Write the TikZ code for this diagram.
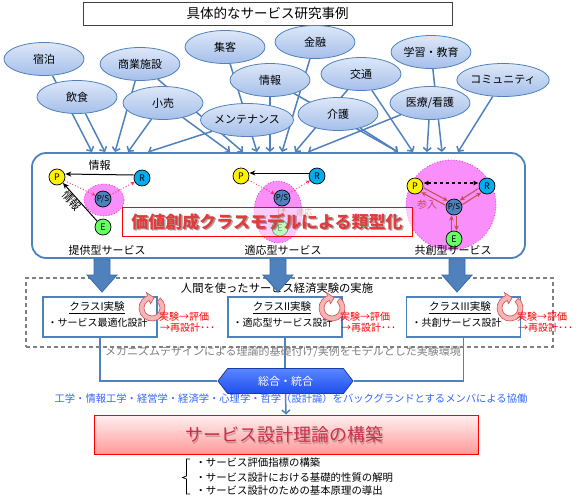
\documentclass[tikz,border=0pt]{standalone}
\usepackage{fontspec}
\setmainfont{Noto Sans CJK JP}
\usetikzlibrary{arrows.meta,shapes.geometric,shapes.symbols}
\definecolor{arrblue}{HTML}{4F81BD}
\definecolor{ellbdr}{HTML}{4F81BD}
\definecolor{elltop}{HTML}{DDE7F8}
\definecolor{ellbot}{HTML}{A5BFEA}
\definecolor{pinkf}{HTML}{FA8EFA}
\definecolor{pinkd}{HTML}{D838D8}
\definecolor{pinkarr}{HTML}{FF2E6E}
\definecolor{brn}{HTML}{C0504D}
\definecolor{psblue}{HTML}{4F81BD}
\definecolor{egreen}{HTML}{66FF66}
\definecolor{ringd}{HTML}{D36060}
\definecolor{ringl}{HTML}{F7B4B4}
\definecolor{hextop}{HTML}{5A86FF}
\definecolor{hexbot}{HTML}{1E4FEF}
\definecolor{hexbdr}{HTML}{1A3DA8}
\definecolor{txtblue}{HTML}{3366FF}
\definecolor{goalred}{HTML}{C8304A}
\definecolor{ovlred}{HTML}{E23B3B}
\definecolor{blkarr}{HTML}{3C6BA6}
\newcommand\fsz[1]{\fontsize{#1}{#1}\selectfont}
\pgfdeclarelayer{bg}
\pgfsetlayers{bg,main}
\begin{document}
\begin{tikzpicture}[x=1pt,y=-1pt,
  ell/.style={ellipse, draw=ellbdr, line width=0.8pt, top color=elltop, bottom color=ellbot, minimum width=80pt, minimum height=33pt, inner sep=0pt, font=\fsz{11}},
  conn/.style={draw=arrblue, line width=1.5pt, -{Straight Barb[length=3.5pt,width=8pt]}},
  circ/.style={circle, draw=black, line width=0.7pt, minimum size=16pt, inner sep=0pt, font=\fsz{9}},
  pc/.style={circ, fill=yellow},
  rc/.style={circ, fill=cyan},
  sc/.style={circ, fill=psblue, font=\fsz{8}},
  ec/.style={circ, fill=egreen},
  pinkblob/.style={fill=pinkf, draw=pinkd, dotted, line width=0.8pt, inner sep=0pt},
  blk/.style={draw=black, line width=1pt, -{Stealth[length=6pt,width=5pt]}},
  pdot/.style={draw=pinkarr, dotted, line width=0.9pt, -{Stealth[length=4pt,width=4pt]}},
  brnarr/.style={draw=brn, line width=1pt, -{Stealth[length=5pt,width=4.5pt]}, shorten <=8.5pt, shorten >=8.5pt},
  lbl/.style={font=\fsz{11}},
  classbox/.style={draw=arrblue, line width=1.5pt, fill=white, minimum width=114pt, minimum height=40pt},
  redtxt/.style={anchor=west, text=red, font=\fsz{10}, inner sep=1pt},
  ring/.style={fill=ringl, draw=ringd, line width=0.7pt},
  blockarr/.style={fill=arrblue, draw=blkarr, line width=0.8pt},
  bullet/.style={anchor=west, font=\fsz{10.4}}
]
\useasboundingbox (0,0) rectangle (583,501);

% title
\node[draw=black!75, line width=0.8pt, minimum width=369pt, minimum height=23pt, font=\fsz{13.5}] (title) at (267.5,13.5) {具体的なサービス研究事例};

% ellipses
\node[ell] (e1) at (44,59) {宿泊};
\node[ell] (e2) at (77,97) {飲食};
\node[ell] (e3) at (140,64) {商業施設};
\node[ell] (e4) at (163,103) {小売};
\node[ell] (e5) at (225,47) {集客};
\node[ell] (e6) at (270,80) {情報};
\node[ell] (e7) at (247,120) {メンテナンス};
\node[ell] (e8) at (315,42) {金融};
\node[ell] (e9) at (361,74) {交通};
\node[ell] (e10) at (338,114) {介護};
\node[ell] (e11) at (431,52) {学習・教育};
\node[ell] (e12) at (430,103) {医療/看護};
\node[ell] (e13) at (503,80) {コミュニティ};

% target points on the box top
\coordinate (a1) at (92,152);
\coordinate (a2) at (105,152);
\coordinate (a3) at (115,152);
\coordinate (a4) at (128,152);
\coordinate (a5) at (148,152);
\coordinate (a6) at (230,152);
\coordinate (a7) at (243,152);
\coordinate (a8) at (257,152);
\coordinate (a9) at (270,152);
\coordinate (a10) at (282,152);
\coordinate (a11) at (295,152);
\coordinate (a12) at (308,152);
\coordinate (a13) at (398,152);
\coordinate (a14) at (413,152);
\coordinate (a15) at (427,152);
\coordinate (a16) at (442,152);
\coordinate (a17) at (458,152);

\begin{pgfonlayer}{bg}
\draw[conn] (e1) -- (a1);
\draw[conn] (e2) -- (a2);
\draw[conn] (e3) -- (a3);
\draw[conn] (e4) -- (a4);
\draw[conn] (e7) -- (a5);
\draw[conn] (e4) -- (a6);
\draw[conn] (e3) -- (a7);
\draw[conn] (e5) -- (a8);
\draw[conn] (e6) -- (a9);
\draw[conn] (e8) -- (a10);
\draw[conn] (e9) -- (a11);
\draw[conn] (e12) -- (a12);
\draw[conn] (e6) -- (a13);
\draw[conn] (e10) -- (a13);
\draw[conn] (e9) -- (a14);
\draw[conn] (e12) -- (a15);
\draw[conn] (e11) -- (a16);
\draw[conn] (e13) -- (a17);
\end{pgfonlayer}

% big rounded box
\node[draw=arrblue, line width=1.8pt, rounded corners=14pt, minimum width=493pt, minimum height=105pt, fill=white] (bigbox) at (278.5,205.5) {};

% provider-type service
\node[ellipse, pinkblob, minimum width=40pt, minimum height=32pt] (pk1) at (104,200) {};
\node[pc] (p1P) at (57,177) {P};
\node[rc] (p1R) at (142,178) {R};
\node[sc] (p1S) at (103,199) {P/S};
\node[ec] (p1E) at (103,227) {E};
\draw[blk] ([yshift=3pt]p1R.west) -- node[above=0pt, font=\fsz{11}] (p1info) {情報} ([yshift=3pt]p1P.east);
\draw[blk] (p1E.north west) -- (p1P.south east);
\node[font=\fsz{11}, rotate=-48] (p1info2) at (72,201) {情報};
\draw[pdot] (p1P) -- (p1S);
\draw[pdot] (p1S) -- (p1R);
\node[lbl] (lab1) at (107,250) {提供型サービス};

% adaptive service
\node[ellipse, pinkblob, minimum width=48pt, minimum height=62pt] (pk2) at (278,212) {};
\node[pc] (p2P) at (241,176) {P};
\node[rc] (p2R) at (317,176) {R};
\node[sc] (p2S) at (282,198) {P/S};
\node[ec] (p2E) at (280,228) {E};
\draw[blk] ([yshift=3pt]p2R.west) -- ([yshift=3pt]p2P.east);
\draw[pdot] (p2P) -- (p2S);
\draw[pdot] (p2S) -- (p2R);
\draw[brnarr] ([xshift=-2.5pt]p2S.center) -- ([xshift=-2.5pt]p2E.center);
\draw[brnarr] ([xshift=2.5pt]p2E.center) -- ([xshift=2.5pt]p2S.center);
\node[text=brn, font=\fsz{8}] (p2lab) at (304,212) {適応};
\node[lbl] (lab2) at (283,250) {適応型サービス};

% co-creation service
\node[circle, pinkblob, minimum size=90pt] (pk3) at (451,205) {};
\node[pc] (p3P) at (415,186) {P};
\node[rc] (p3R) at (487,186) {R};
\node[sc] (p3S) at (454,207) {P/S};
\node[ec] (p3E) at (454,239) {E};
\draw[dashed, line width=1.2pt, {Latex[length=5pt,width=5pt]}-{Latex[length=5pt,width=5pt]}] ([yshift=3pt]p3P.east) -- ([yshift=3pt]p3R.west);
\draw[brnarr] ([shift={(1.2,-2.2)}]p3P.center) -- ([shift={(1.2,-2.2)}]p3S.center);
\draw[brnarr] ([shift={(-1.2,2.2)}]p3S.center) -- ([shift={(-1.2,2.2)}]p3P.center);
\draw[brnarr] ([shift={(-1.3,-2.1)}]p3R.center) -- ([shift={(-1.3,-2.1)}]p3S.center);
\draw[brnarr] ([shift={(1.3,2.1)}]p3S.center) -- ([shift={(1.3,2.1)}]p3R.center);
\draw[brnarr] ([xshift=-2.5pt]p3E.center) -- ([xshift=-2.5pt]p3S.center);
\draw[brnarr] ([xshift=2.5pt]p3S.center) -- ([xshift=2.5pt]p3E.center);
\node[text=brn, font=\fsz{10}] (p3lab) at (427,205) {参入};
\node[lbl] (lab3) at (453,250) {共創型サービス};

% overlay
\node[draw=red, line width=0.8pt, fill=white, fill opacity=0.55, minimum width=290pt, minimum height=29pt] (ovl) at (267,221.5) {};
\node[text=black, opacity=0.35, font=\fsz{17}\bfseries] (ovlsh) at (268.5,223) {価値創成クラスモデルによる類型化};
\node[text=ovlred, font=\fsz{17}\bfseries] (ovltxt) at (267,221.5) {価値創成クラスモデルによる類型化};

% dashed experiment box
\node[draw=gray, dash pattern=on 4pt off 3pt, line width=1.5pt, minimum width=527pt, minimum height=69pt] (dbox) at (289.5,312.5) {};
\node[font=\fsz{11.3}] (dlab) at (277,288) {人間を使ったサービス経済実験の実施};

% block arrows
\foreach \cx in {102, 278, 457}{
  \filldraw[blockarr] (\cx-8,259) -- (\cx+8,259) -- (\cx+8,275) -- (\cx+15,275) -- (\cx,292) -- (\cx-15,275) -- (\cx-8,275) -- cycle;
}

% class boxes
\node[classbox] (c1) at (100,317) {};
\node[classbox] (c2) at (285,317) {};
\node[classbox] (c3) at (463.5,317) {};
\node[font=\fsz{10.5}] (c1t) at (97,308) {\underline{クラスI実験}};
\node[font=\fsz{10.5}] (c2t) at (282,308) {\underline{クラスII実験}};
\node[font=\fsz{10.5}] (c3t) at (460,308) {\underline{クラスIII実験}};
\node[anchor=west, font=\fsz{10}] (c1b) at (44,323) {・サービス最適化設計};
\node[anchor=west, font=\fsz{10}] (c2b) at (229,323) {・適応型サービス設計};
\node[anchor=west, font=\fsz{10}] (c3b) at (408,323) {・共創サービス設計};

% cycle icons
\foreach \cx in {152,332,510}{
\begin{scope}[shift={(\cx,308)}]
\filldraw[ring] (-50:13) arc[start angle=-50, end angle=250, radius=13] -- (250:16.5) -- (282:10.5) -- (250:4.5) -- (250:8) arc[start angle=250, end angle=-50, radius=8] -- cycle;
\end{scope}
}
\node[redtxt] (r1a) at (158,317) {実験→評価};
\node[redtxt] (r1b) at (159,328) {→再設計･･･};
\node[redtxt] (r2a) at (339,317) {実験→評価};
\node[redtxt] (r2b) at (340,328) {→再設計･･･};
\node[redtxt] (r3a) at (516,317) {実験→評価};
\node[redtxt] (r3b) at (517,328) {→再設計･･･};

% mechanism text
\node[text=gray, font=\fsz{11}] (mech) at (283,352) {メカニズムデザインによる理論的基礎付け/実例をモデルとした実験環境};

% integration hexagon
\node[signal, signal to=east and west, signal pointer angle=105, draw=hexbdr, line width=0.8pt, top color=hextop, bottom color=hexbot, text=white, font=\fsz{11}, minimum width=135pt, minimum height=25pt, inner sep=0pt] (hex) at (285.5,381) {総合・統合};

\begin{pgfonlayer}{bg}
\draw[draw=arrblue, line width=1.5pt] (c1.south) |- (hex.west);
\draw[draw=arrblue, line width=1.5pt] (c3.south) |- (hex.east);
\draw[draw=arrblue, line width=1.5pt] (c2.south) -- (c2.south |- hex.north);
\end{pgfonlayer}

\node[text=txtblue, font=\fsz{10.3}] (collab) at (291,399) {工学・情報工学・経営学・経済学・心理学・哲学（設計論）をバックグランドとするメンバによる協働};

% goal box
\node[draw=red, line width=1pt, top color=red!6, bottom color=red!40, minimum width=384pt, minimum height=39pt] (goal) at (286,434.5) {};
\begin{pgfonlayer}{bg}
\draw[conn] (hex.south) -- (goal.north);
\end{pgfonlayer}
\node[text=black, opacity=0.2, font=\fsz{18}] (goalsh) at (285,436.5) {サービス設計理論の構築};
\node[text=goalred, font=\fsz{18}] (goaltxt) at (284,435) {サービス設計理論の構築};

% bullet list
\draw[line width=0.7pt] (190,459) -- (186.5,459) -- (186.5,476) -- (182.5,477.5) -- (186.5,479) -- (186.5,494) -- (190,494);
\node[bullet] (b1) at (192,463) {・サービス評価指標の構築};
\node[bullet] (b2) at (192,477.5) {・サービス設計における基礎的性質の解明};
\node[bullet] (b3) at (192,491) {・サービス設計のための基本原理の導出};
\end{tikzpicture}
\end{document}
